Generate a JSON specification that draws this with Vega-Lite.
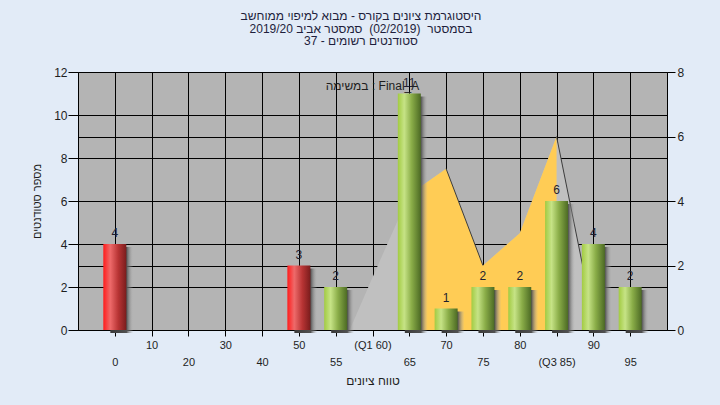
{
  "$schema": "https://vega.github.io/schema/vega-lite/v6.json",
  "width": 589,
  "height": 258,
  "autosize": {"type": "none"},
  "padding": {"left": 78, "top": 72, "right": 53, "bottom": 75},
  "background": "#e2ebf7",
  "config": {
    "font": "Liberation Sans, DejaVu Sans, sans-serif",
    "view": {"fill": "#b4b4b4", "stroke": null},
    "axis": {
      "domainColor": "#000000",
      "tickColor": "#000000",
      "gridColor": "#000000",
      "gridOpacity": 1,
      "gridWidth": 1,
      "labelColor": "#1e1e1e",
      "titleColor": "#1e1e1e",
      "titleFontWeight": "normal",
      "labelFont": "Liberation Sans, DejaVu Sans, sans-serif",
      "titleFont": "Liberation Sans, DejaVu Sans, sans-serif"
    }
  },
  "title": {
    "text": ["היסטוגרמת ציונים בקורס - מבוא למיפוי ממוחשב", "בסמסטר \u00a0(02/2019) \u00a0סמסטר אביב 2019/20", "סטודנטים רשומים - 37"],
    "fontSize": 12,
    "fontWeight": "normal",
    "color": "#1e1e3c",
    "lineHeight": 12.3,
    "anchor": "middle",
    "frame": "group",
    "dx": -11.5,
    "offset": 18
  },
  "datasets": {
    "bars": [
      {"range": "0", "students": 4, "pass": false},
      {"range": "50", "students": 3, "pass": false},
      {"range": "55", "students": 2, "pass": true},
      {"range": "65", "students": 11, "pass": true},
      {"range": "70", "students": 1, "pass": true},
      {"range": "75", "students": 2, "pass": true},
      {"range": "80", "students": 2, "pass": true},
      {"range": "(Q3 85)", "students": 6, "pass": true},
      {"range": "90", "students": 4, "pass": true},
      {"range": "95", "students": 2, "pass": true}
    ],
    "area": [
      {"range": "55", "value": -1.0},
      {"range": "(Q1 60)", "value": 1.63},
      {"range": "65", "value": 4.2},
      {"range": "70", "value": 5.0},
      {"range": "75", "value": 2.0},
      {"range": "80", "value": 3.0},
      {"range": "(Q3 85)", "value": 6.0},
      {"range": "90", "value": 0.35}
    ],
    "note": [
      {"range": "(Q1 60)", "level": 11.35, "note": "במשימה : Final_A"}
    ]
  },
  "encoding": {
    "x": {
      "field": "range",
      "type": "ordinal",
      "scale": {"type": "point", "domain": ["0", "10", "20", "30", "40", "50", "55", "(Q1 60)", "65", "70", "75", "80", "(Q3 85)", "90", "95"], "padding": 1},
      "axis": {
        "orient": "bottom",
        "grid": true,
        "tickSize": 6,
        "labelAngle": 0,
        "labelFontSize": 11,
        "labelPadding": 3,
        "labelBaseline": "top",
        "labelLineHeight": 17,
        "labelOverlap": false,
        "labelExpr": "indexof(['0','20','40','55','65','75','(Q3 85)','95'], datum.label) >= 0 ? ['', datum.label] : datum.label",
        "title": "טווח ציונים",
        "titleFontSize": 12,
        "titlePadding": 8
      }
    }
  },
  "layer": [
    {
      "data": {"name": "area"},
      "encoding": {
        "y": {
          "field": "value",
          "type": "quantitative",
          "scale": {"domain": [0, 8]},
          "axis": {"orient": "right", "values": [0, 2, 4, 6, 8], "grid": true, "tickSize": 8, "labelPadding": 2, "labelFontSize": 12, "title": null}
        }
      },
      "layer": [
        {"mark": {"type": "area", "color": "#c0c0c0", "clip": true}},
        {
          "transform": [{"filter": "indexof(['65','70','75','80','(Q3 85)'], datum.range) >= 0"}],
          "mark": {"type": "area", "color": "#ffcc55", "clip": true}
        },
        {
          "transform": [{"filter": "indexof(['70','75'], datum.range) >= 0"}],
          "mark": {"type": "line", "color": "#3c3c3c", "strokeWidth": 1, "clip": true}
        },
        {
          "transform": [{"filter": "indexof(['(Q3 85)','90'], datum.range) >= 0"}],
          "mark": {"type": "line", "color": "#3c3c3c", "strokeWidth": 1, "clip": true}
        }
      ]
    },
    {
      "encoding": {
        "y": {
          "field": "students",
          "type": "quantitative",
          "scale": {"domain": [0, 12]},
          "axis": {"orient": "left", "values": [0, 2, 4, 6, 8, 10, 12], "grid": true, "tickSize": 10, "labelPadding": 1, "labelFontSize": 12, "title": "מספר סטודנטים", "titleFontSize": 11, "titlePadding": 11}
        }
      },
      "layer": [
        {
          "data": {"name": "bars"},
          "mark": {
            "type": "bar",
            "width": 23,
            "xOffset": 7,
            "yOffset": 3,
            "fill": {"gradient": "linear", "x1": 0, "x2": 1, "y1": 0, "y2": 0, "stops": [
              {"offset": 0, "color": "#3a3a3a"},
              {"offset": 0.7, "color": "#505050"},
              {"offset": 1, "color": "rgba(180,180,180,0)"}
            ]}
          }
        },
        {
          "data": {"name": "bars"},
          "transform": [{"filter": "!datum.pass"}],
          "mark": {
            "type": "bar",
            "width": 23,
            "fill": {"gradient": "linear", "x1": 0, "x2": 1, "y1": 0, "y2": 0, "stops": [
              {"offset": 0, "color": "#ff1c1c"},
              {"offset": 0.3, "color": "#ee6a6a"},
              {"offset": 0.65, "color": "#b83434"},
              {"offset": 1, "color": "#7a1c1c"}
            ]}
          }
        },
        {
          "data": {"name": "bars"},
          "transform": [{"filter": "datum.pass"}],
          "mark": {
            "type": "bar",
            "width": 23,
            "fill": {"gradient": "linear", "x1": 0, "x2": 1, "y1": 0, "y2": 0, "stops": [
              {"offset": 0, "color": "#a2cb42"},
              {"offset": 0.28, "color": "#c6e386"},
              {"offset": 0.6, "color": "#8aad48"},
              {"offset": 1, "color": "#4c6a24"}
            ]}
          }
        },
        {
          "data": {"name": "bars"},
          "mark": {"type": "text", "dy": -7, "baseline": "alphabetic", "fontSize": 12, "color": "#1e1e2e"},
          "encoding": {"text": {"field": "students", "type": "quantitative"}}
        },
        {
          "data": {"name": "note"},
          "mark": {"type": "text", "fontSize": 12, "color": "#1e1e1e", "baseline": "middle"},
          "encoding": {
            "y": {"field": "level", "type": "quantitative"},
            "text": {"field": "note", "type": "nominal"}
          }
        }
      ]
    }
  ],
  "resolve": {"scale": {"y": "independent"}}
}
